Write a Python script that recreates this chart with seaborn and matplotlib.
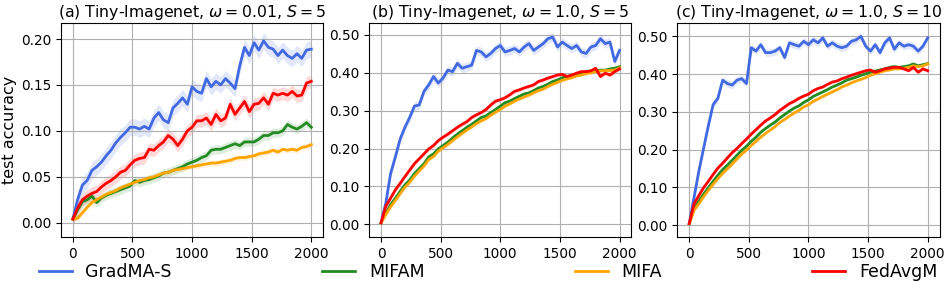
import numpy as np
import pandas as pd
import seaborn as sns
import matplotlib.pyplot as plt
from matplotlib.ticker import FormatStrFormatter, MultipleLocator
from matplotlib.lines import Line2D

# communication rounds (every 40 rounds)
rounds = list(range(0, 2001, 40))

methods = ["GradMA-S", "MIFAM", "MIFA", "FedAvgM"]
colors = {"GradMA-S": "royalblue", "MIFAM": "forestgreen", "MIFA": "orange", "FedAvgM": "red"}

titles = [r"(a) Tiny-Imagenet, $\omega = 0.01$, $S = 5$",
          r"(b) Tiny-Imagenet, $\omega = 1.0$, $S = 5$",
          r"(c) Tiny-Imagenet, $\omega = 1.0$, $S = 10$"]

# ---- panel (a) ----
a_gradma = [0.004, 0.025, 0.041, 0.046, 0.057, 0.061, 0.066, 0.073, 0.079, 0.087, 0.093,
            0.098, 0.104, 0.104, 0.102, 0.105, 0.102, 0.114, 0.120, 0.112, 0.109, 0.125,
            0.130, 0.136, 0.129, 0.148, 0.143, 0.141, 0.157, 0.148, 0.154, 0.150, 0.157,
            0.152, 0.146, 0.171, 0.191, 0.182, 0.196, 0.188, 0.198, 0.191, 0.189, 0.182,
            0.188, 0.182, 0.179, 0.184, 0.179, 0.188, 0.189]
a_mifam = [0.004, 0.014, 0.023, 0.025, 0.029, 0.022, 0.027, 0.030, 0.032, 0.034, 0.036,
           0.038, 0.040, 0.046, 0.044, 0.046, 0.047, 0.049, 0.051, 0.054, 0.055, 0.057,
           0.059, 0.061, 0.064, 0.066, 0.068, 0.071, 0.073, 0.079, 0.080, 0.080, 0.082,
           0.084, 0.086, 0.084, 0.088, 0.088, 0.088, 0.091, 0.095, 0.095, 0.098, 0.098,
           0.100, 0.107, 0.104, 0.102, 0.105, 0.109, 0.104]
a_mifa = [0.004, 0.005, 0.011, 0.017, 0.022, 0.025, 0.028, 0.031, 0.033, 0.035, 0.038,
          0.040, 0.042, 0.044, 0.046, 0.047, 0.049, 0.050, 0.052, 0.054, 0.055, 0.057,
          0.058, 0.059, 0.060, 0.061, 0.062, 0.063, 0.064, 0.065, 0.065, 0.066, 0.067,
          0.068, 0.070, 0.071, 0.071, 0.072, 0.073, 0.075, 0.076, 0.077, 0.079, 0.077,
          0.080, 0.079, 0.080, 0.079, 0.082, 0.083, 0.085]
a_fedavgm = [0.004, 0.016, 0.025, 0.029, 0.032, 0.034, 0.039, 0.043, 0.046, 0.050, 0.055,
             0.057, 0.063, 0.068, 0.070, 0.071, 0.080, 0.079, 0.084, 0.088, 0.095, 0.091,
             0.084, 0.091, 0.100, 0.104, 0.111, 0.111, 0.114, 0.107, 0.118, 0.111, 0.114,
             0.129, 0.118, 0.125, 0.132, 0.121, 0.129, 0.130, 0.136, 0.129, 0.141, 0.139,
             0.141, 0.139, 0.143, 0.138, 0.139, 0.152, 0.154]

# ---- panel (b) ----
b_gradma = [0.004, 0.056, 0.134, 0.178, 0.225, 0.256, 0.282, 0.312, 0.315, 0.351, 0.368,
            0.390, 0.373, 0.386, 0.407, 0.403, 0.425, 0.412, 0.416, 0.420, 0.459, 0.455,
            0.442, 0.451, 0.464, 0.472, 0.455, 0.459, 0.464, 0.455, 0.468, 0.477, 0.459,
            0.468, 0.477, 0.490, 0.494, 0.468, 0.481, 0.472, 0.464, 0.472, 0.455, 0.451,
            0.468, 0.472, 0.490, 0.477, 0.481, 0.430, 0.459]
b_mifam = [0.004, 0.030, 0.052, 0.069, 0.087, 0.104, 0.117, 0.134, 0.147, 0.160, 0.178,
           0.186, 0.199, 0.208, 0.217, 0.228, 0.238, 0.247, 0.256, 0.264, 0.273, 0.282,
           0.286, 0.295, 0.303, 0.312, 0.321, 0.325, 0.332, 0.338, 0.344, 0.347, 0.353,
           0.360, 0.364, 0.370, 0.377, 0.381, 0.387, 0.390, 0.394, 0.396, 0.400, 0.403,
           0.405, 0.405, 0.407, 0.407, 0.410, 0.412, 0.416]
b_mifa = [0.004, 0.026, 0.046, 0.063, 0.081, 0.098, 0.111, 0.127, 0.141, 0.154, 0.171,
          0.179, 0.193, 0.202, 0.211, 0.221, 0.231, 0.240, 0.249, 0.257, 0.266, 0.273,
          0.279, 0.288, 0.296, 0.303, 0.312, 0.318, 0.325, 0.331, 0.336, 0.341, 0.347,
          0.353, 0.357, 0.364, 0.370, 0.375, 0.380, 0.384, 0.387, 0.392, 0.394, 0.398,
          0.400, 0.403, 0.405, 0.406, 0.406, 0.407, 0.413]
b_fedavgm = [0.004, 0.048, 0.069, 0.091, 0.108, 0.126, 0.143, 0.160, 0.173, 0.186, 0.199,
             0.208, 0.221, 0.230, 0.238, 0.247, 0.256, 0.264, 0.271, 0.282, 0.289, 0.295,
             0.303, 0.315, 0.325, 0.329, 0.334, 0.342, 0.351, 0.355, 0.360, 0.364, 0.368,
             0.377, 0.381, 0.386, 0.390, 0.394, 0.396, 0.390, 0.394, 0.399, 0.403, 0.403,
             0.405, 0.412, 0.390, 0.399, 0.394, 0.403, 0.410]

# ---- panel (c) ----
c_gradma = [0.004, 0.073, 0.142, 0.203, 0.263, 0.319, 0.336, 0.384, 0.375, 0.371, 0.384,
            0.388, 0.375, 0.470, 0.461, 0.478, 0.457, 0.457, 0.461, 0.470, 0.444, 0.483,
            0.478, 0.474, 0.487, 0.478, 0.491, 0.483, 0.496, 0.474, 0.483, 0.474, 0.470,
            0.474, 0.487, 0.491, 0.500, 0.474, 0.461, 0.478, 0.457, 0.483, 0.496, 0.466,
            0.483, 0.474, 0.478, 0.474, 0.461, 0.474, 0.496]
c_mifam = [0.004, 0.043, 0.063, 0.082, 0.099, 0.116, 0.132, 0.147, 0.159, 0.172, 0.185,
           0.198, 0.209, 0.222, 0.233, 0.246, 0.256, 0.265, 0.273, 0.284, 0.293, 0.302,
           0.310, 0.316, 0.325, 0.332, 0.341, 0.347, 0.353, 0.359, 0.366, 0.371, 0.377,
           0.384, 0.388, 0.392, 0.397, 0.401, 0.405, 0.408, 0.411, 0.414, 0.418, 0.420,
           0.418, 0.420, 0.422, 0.427, 0.422, 0.425, 0.428]
c_mifa = [0.004, 0.039, 0.056, 0.075, 0.092, 0.108, 0.123, 0.137, 0.149, 0.162, 0.175,
          0.188, 0.199, 0.211, 0.222, 0.233, 0.243, 0.252, 0.261, 0.272, 0.280, 0.289,
          0.297, 0.304, 0.313, 0.319, 0.328, 0.334, 0.341, 0.347, 0.353, 0.359, 0.366,
          0.371, 0.377, 0.382, 0.386, 0.391, 0.397, 0.401, 0.405, 0.409, 0.411, 0.414,
          0.414, 0.416, 0.418, 0.422, 0.420, 0.422, 0.427]
c_fedavgm = [0.004, 0.056, 0.078, 0.099, 0.116, 0.134, 0.151, 0.164, 0.178, 0.192, 0.203,
             0.216, 0.228, 0.241, 0.253, 0.265, 0.276, 0.284, 0.293, 0.304, 0.313, 0.322,
             0.328, 0.336, 0.342, 0.347, 0.356, 0.362, 0.366, 0.373, 0.379, 0.382, 0.388,
             0.392, 0.397, 0.401, 0.405, 0.409, 0.411, 0.405, 0.409, 0.414, 0.416, 0.418,
             0.418, 0.414, 0.409, 0.418, 0.405, 0.414, 0.409]

panels = [
    {"GradMA-S": a_gradma, "MIFAM": a_mifam, "MIFA": a_mifa, "FedAvgM": a_fedavgm},
    {"GradMA-S": b_gradma, "MIFAM": b_mifam, "MIFA": b_mifa, "FedAvgM": b_fedavgm},
    {"GradMA-S": c_gradma, "MIFAM": c_mifam, "MIFA": c_mifa, "FedAvgM": c_fedavgm},
]
# half width of the shaded band (spread over seeds), per panel
bands = [
    {"GradMA-S": 0.009, "MIFAM": 0.005, "MIFA": 0.003, "FedAvgM": 0.007},
    {"GradMA-S": 0.012, "MIFAM": 0.004, "MIFA": 0.004, "FedAvgM": 0.005},
    {"GradMA-S": 0.010, "MIFAM": 0.003, "MIFA": 0.003, "FedAvgM": 0.004},
]

fig, axes = plt.subplots(1, 3, figsize=(9.52, 2.86), dpi=100)
fig.subplots_adjust(left=0.064, right=0.987, top=0.92, bottom=0.171, wspace=0.175)

for i, ax in enumerate(axes):
    data = panels[i]
    df = pd.DataFrame({"round": rounds * 4,
                       "acc": sum([data[m] for m in methods], []),
                       "method": sum([[m] * len(rounds) for m in methods], [])})
    for m in methods:
        y = np.array(data[m])
        ax.fill_between(rounds, y - bands[i][m], y + bands[i][m],
                        color=colors[m], alpha=0.15, linewidth=0)
    sns.lineplot(data=df, x="round", y="acc", hue="method", hue_order=methods,
                 palette=colors, linewidth=2, ax=ax, legend=False)
    ax.set_title(titles[i], fontsize=11.3, pad=4)
    ax.set_xlabel("")
    ax.set_ylabel("")
    ax.grid(True, color="#b0b0b0", linewidth=0.8)
    ax.set_xticks([0, 500, 1000, 1500, 2000])
    if i == 0:
        ax.yaxis.set_major_locator(MultipleLocator(0.05))
    else:
        ax.yaxis.set_major_locator(MultipleLocator(0.1))
    ax.yaxis.set_major_formatter(FormatStrFormatter("%.2f"))
    ax.tick_params(labelsize=9.8, pad=3.5)

axes[0].set_ylabel("test accuracy", fontsize=11.5, labelpad=3)

handles = [Line2D([], [], color=colors[m], linewidth=2) for m in methods]
fig.legend(handles, methods, loc="lower left", ncol=4, mode="expand",
           bbox_to_anchor=(0.035, 0.0, 0.955, 0.1), frameon=False,
           fontsize=12.5, handlelength=1.9, borderaxespad=0, borderpad=0.3)

fig.savefig("out.png", dpi=100)
